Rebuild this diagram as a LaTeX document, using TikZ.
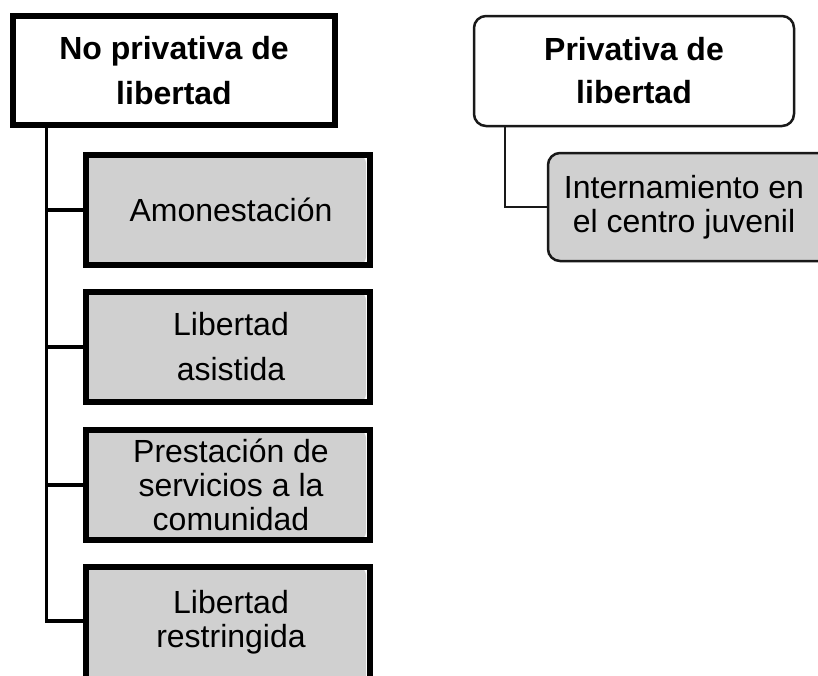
\documentclass[tikz,border=0pt]{standalone}
\usepackage{fontspec}
\setmainfont{Liberation Sans}
\definecolor{boxgray}{RGB}{208,208,208}
\definecolor{thinline}{RGB}{25,25,25}
\begin{document}
\begin{tikzpicture}[x=1pt,y=-1pt,
  titlebox/.style={draw=black, line width=6pt, fill=white, minimum width=322pt, minimum height=109pt, inner sep=0pt, align=center, font=\fontsize{32}{45}\selectfont\bfseries},
  itembox/.style={draw=black, line width=6pt, minimum width=284pt, minimum height=110pt, inner sep=0pt, align=center,
    path picture={\fill[boxgray, rounded corners=8pt] (path picture bounding box.north west) rectangle ([xshift=-4pt]path picture bounding box.south east);}},
  roundtitle/.style={draw=thinline, line width=2.5pt, fill=white, rounded corners=12pt, minimum width=320pt, minimum height=110pt, inner sep=0pt, align=center, font=\fontsize{32}{43}\selectfont\bfseries},
  rounditem/.style={draw=thinline, line width=2.5pt, fill=boxgray, rounded corners=12pt, minimum width=284pt, minimum height=108pt, inner sep=0pt, align=center, font=\fontsize{32}{34}\selectfont},
  thickline/.style={line width=3.5pt, black},
  thinconn/.style={line width=2.5pt, thinline}]
\useasboundingbox (0,0) rectangle (818,675);
\clip (0,0) rectangle (818,675);
\fill[white] (0,0) rectangle (818,675);

% left branch
\node[titlebox] (np) at (174,70.5) {No privativa de\\libertad};
\node[itembox, font=\fontsize{32}{34}\selectfont] (a1) at (228,210) {\hspace*{6pt}Amonestación};
\node[itembox, font=\fontsize{32}{45}\selectfont] (a2) at (228,347) {\hspace*{6pt}Libertad\\\hspace*{6pt}asistida};
\node[itembox, font=\fontsize{32}{34}\selectfont] (a3) at (228,485) {\hspace*{6pt}Prestación de\\\hspace*{6pt}servicios a la\\\hspace*{6pt}comunidad};
\node[itembox, font=\fontsize{32}{34}\selectfont, minimum height=124pt, text depth=21pt] (a4) at (228,629) {\hspace*{6pt}Libertad\\\hspace*{6pt}restringida};

\coordinate (trunk) at (46.5,128);
\coordinate (lastarm) at (46.5,621);
\draw[thickline] (trunk) -- (lastarm) -- (lastarm -| a4.west);
\draw[thickline] (trunk |- a1.west) -- (a1.west);
\draw[thickline] (trunk |- a2.west) -- (a2.west);
\draw[thickline] (trunk |- a3.west) -- (a3.west);

% right branch
\node[roundtitle] (p) at (634,71) {Privativa de\\libertad};
\node[rounditem] (b1) at (690,207) {\hspace*{-12pt}Internamiento en\\\hspace*{-12pt}el centro juvenil};
\coordinate (ptrunk) at (505,126);
\draw[thinconn] (ptrunk) |- (b1.west);
\end{tikzpicture}
\end{document}
